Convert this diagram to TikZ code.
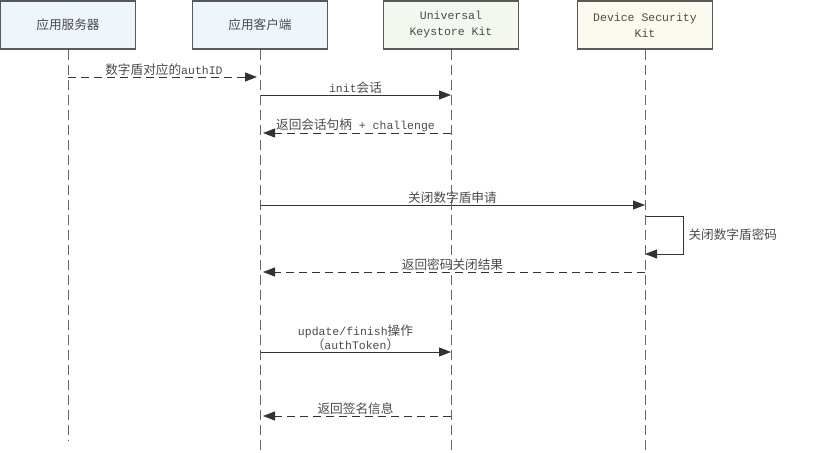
\documentclass[tikz,border=0pt]{standalone}
\usepackage{fontspec}
\setmainfont{Liberation Mono}
\newfontfamily\cjkfont[Scale=1.1]{Noto Sans CJK SC}
\newcommand{\zh}[1]{{\cjkfont #1}}
\usetikzlibrary{arrows.meta}
\definecolor{boxgray}{HTML}{5A5A5A}
\definecolor{textgray}{HTML}{4A4A4A}
\definecolor{linegray}{HTML}{666666}
\definecolor{arrowgray}{HTML}{333333}
\definecolor{bluefill}{HTML}{EEF6FC}
\definecolor{greenfill}{HTML}{F2F7EF}
\definecolor{yellowfill}{HTML}{FCFAEE}
\tikzstyle{actor} = [rectangle, minimum width=135pt, minimum height=48pt, align=center, draw=boxgray, line width=1.2pt, text=textgray, font=\fontsize{11.5}{16}\selectfont]
\tikzstyle{lifeline} = [draw=linegray, line width=0.9pt, dash pattern=on 10pt off 5pt]
\tikzstyle{call} = [draw=arrowgray, line width=1pt, -{Triangle[length=12pt,width=9pt]}]
\tikzstyle{reply} = [call, dash pattern=on 8pt off 5pt, shorten >=3pt]
\tikzstyle{msg} = [midway, above, inner sep=1pt, align=center, text=textgray, font=\fontsize{11.5}{14}\selectfont]

\begin{document}
\begin{tikzpicture}[x=1pt, y=-1pt]
                \useasboundingbox (0,0) rectangle (831,453);
                % Participants
                \node (server) [actor, fill=bluefill] at (68,25) {\zh{应用服务器}};
                \node (client) [actor, fill=bluefill] at (260,25) {\zh{应用客户端}};
                \node (huks) [actor, fill=greenfill] at (451,25) {Universal\\Keystore Kit};
                \node (dsk) [actor, fill=yellowfill] at (645,25) {Device Security\\Kit};

                % Message rows
                \coordinate (m1) at (0,77);
                \coordinate (m2) at (0,95);
                \coordinate (m3) at (0,133);
                \coordinate (m4) at (0,205);
                \coordinate (m5a) at (0,216);
                \coordinate (m5b) at (0,254);
                \coordinate (m6) at (0,272);
                \coordinate (m7) at (0,352);
                \coordinate (m8) at (0,416);

                % Messages
                \draw [reply] (server |- m1) -- (client |- m1) node[msg] {\zh{数字盾对应的}authID};
                \draw [call] (client |- m2) -- (huks |- m2) node[msg] {init\zh{会话}};
                \draw [reply] (huks |- m3) -- (client |- m3) node[msg] {\zh{返回会话句柄} + challenge};
                \draw [call] (client |- m4) -- (dsk |- m4) node[msg] {\zh{关闭数字盾申请}};
                \draw [call] (dsk |- m5a) -- ++(38,0) |- (dsk |- m5b) node[pos=0.25, right, inner sep=5pt, text=textgray, font=\fontsize{11.5}{14}\selectfont] {\zh{关闭数字盾密码}};
                \draw [reply] (dsk |- m6) -- (client |- m6) node[msg] {\zh{返回密码关闭结果}};
                \draw [call] (client |- m7) -- (huks |- m7) node[msg] {update/finish\zh{操作}\\\zh{（}authToken\zh{）}};
                \draw [reply] (huks |- m8) -- (client |- m8) node[msg] {\zh{返回签名信息}};

                % Lifelines
                \coordinate (server-end) at (68,440);
                \coordinate (client-end) at (260,453);
                \coordinate (huks-end) at (451,453);
                \coordinate (dsk-end) at (645,453);
                \draw [lifeline] (server) -- (server-end);
                \draw [lifeline] (client) -- (client-end);
                \draw [lifeline] (huks) -- (huks-end);
                \draw [lifeline] (dsk) -- (dsk-end);
            \end{tikzpicture}
\end{document}
